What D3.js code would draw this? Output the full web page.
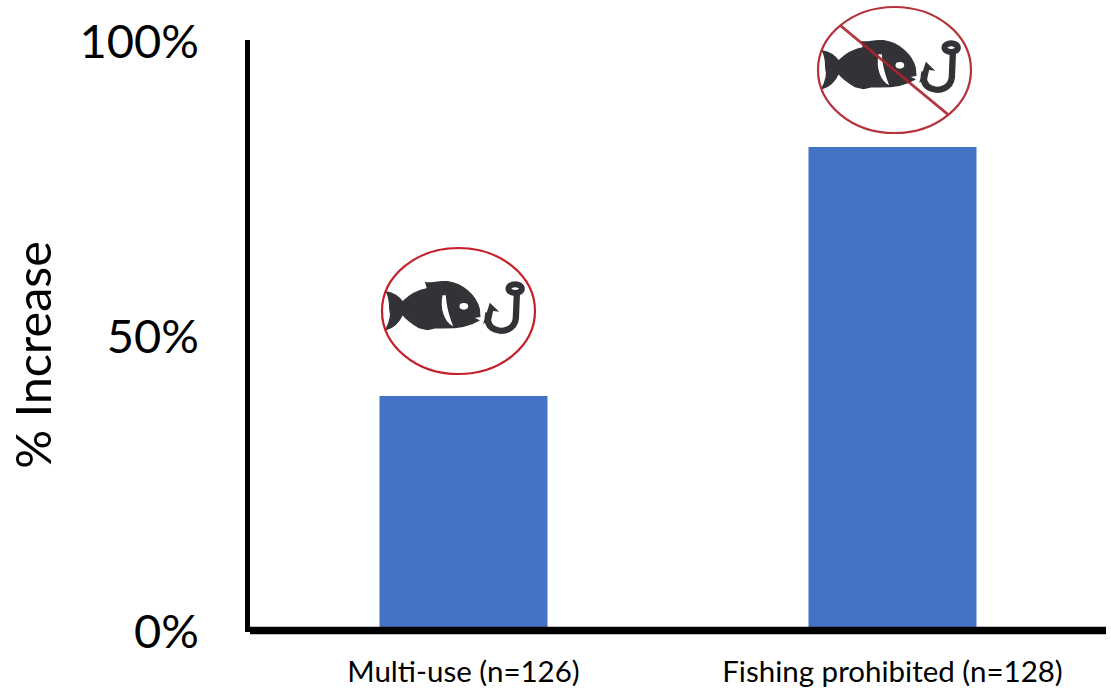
<!DOCTYPE html>
<html>
<head>
<meta charset="utf-8">
<script src="https://cdn.jsdelivr.net/npm/d3@7"></script>
<style>
  html, body { margin: 0; padding: 0; background: #fff; }
  svg { display: block; }
  text { font-family: Lato, "Open Sans", sans-serif; fill: #000; }
</style>
</head>
<body>
<div id="chart"></div>
<script>
const categories = ['Multi-use (n=126)', 'Fishing prohibited (n=128)'];
const values = [40, 82.2];
const tickValues = [0, 50, 100];
const prohibited = [false, true];

const width = 1111;
const height = 689;

const svg = d3.select('#chart').append('svg')
  .attr('width', width)
  .attr('height', height);

const x = d3.scaleBand()
  .domain(categories)
  .range([249, 1107])
  .paddingInner(0.5)
  .paddingOuter(0.25);

// the bar bottoms sit on top of the thick axis line
const y = d3.scaleLinear().domain([0, 100]).range([632, 42]);

const barWidth = 168;
const barX = d => x(d) + x.bandwidth() / 2 - barWidth / 2;

svg.selectAll('rect.bar')
  .data(categories)
  .enter()
  .append('rect')
  .attr('class', 'bar')
  .attr('x', d => barX(d))
  .attr('y', (d, i) => y(values[i]))
  .attr('width', barWidth)
  .attr('height', (d, i) => y(0) - y(values[i]))
  .attr('fill', '#4472c4');

// axes
svg.append('line')
  .attr('x1', 247.5).attr('x2', 247.5)
  .attr('y1', 40).attr('y2', 632)
  .attr('stroke', '#000').attr('stroke-width', 5);

svg.append('line')
  .attr('x1', 250).attr('x2', 1106)
  .attr('y1', 630.5).attr('y2', 630.5)
  .attr('stroke', '#000').attr('stroke-width', 7.5);

svg.selectAll('text.ytick')
  .data(tickValues)
  .enter()
  .append('text')
  .attr('class', 'ytick')
  .attr('x', 199)
  .attr('y', d => y(d))
  .attr('dy', '0.35em')
  .attr('text-anchor', 'end')
  .style('font-size', '47px')
  .text(d => `${d}%`);

svg.selectAll('text.xlabel')
  .data(categories)
  .enter()
  .append('text')
  .attr('class', 'xlabel')
  .attr('x', d => x(d) + x.bandwidth() / 2)
  .attr('y', 682)
  .attr('text-anchor', 'middle')
  .style('font-size', '29.5px')
  .text(d => d);

svg.append('text')
  .attr('transform', 'translate(51,355) rotate(-90)')
  .attr('text-anchor', 'middle')
  .style('font-size', '48.5px')
  .text('% Increase');

// fish + hook icon, drawn in a 3x local space centred on the ring
function drawIcon(g, slashed) {
  const inner = g.append('g').attr('transform', 'scale(0.3333) translate(-268,-212)');
  inner.append('path')
    .attr('fill', '#333337')
    .attr('stroke', '#333337')
    .attr('stroke-width', 4)
    .attr('d', 'M52,155 C70,158 85,165 100,185 C120,165 145,150 175,145 L170,127 C190,130 205,122 235,124 C280,130 320,165 330,205 L332,228 L310,232 L328,240 C300,258 260,265 200,262 L175,268 L150,262 C130,250 110,235 100,222 C90,245 75,262 50,268 C62,245 68,225 62,208 C62,190 60,170 52,155 Z');
  inner.append('path')
    .attr('fill', '#fff')
    .attr('d', 'M220,165 C212,205 225,245 252,258 C240,225 232,200 230,165 Z');
  inner.append('ellipse')
    .attr('cx', 284).attr('cy', 198).attr('rx', 13).attr('ry', 10)
    .attr('fill', '#fff');
  inner.append('ellipse')
    .attr('cx', 438).attr('cy', 145).attr('rx', 20).attr('ry', 13)
    .attr('fill', 'none').attr('stroke', '#333337').attr('stroke-width', 18);
  inner.append('path')
    .attr('fill', 'none').attr('stroke', '#333337').attr('stroke-width', 19)
    .attr('d', 'M443,162 L440,235 C436,265 405,278 380,268 C360,262 352,245 358,218');
  inner.append('path')
    .attr('fill', '#333337')
    .attr('d', 'M362,187 L390,214 L372,212 L366,238 L342,250 Z');
  if (slashed) {
    inner.append('line')
      .attr('x1', 105).attr('y1', 78).attr('x2', 428).attr('y2', 345)
      .attr('stroke', '#a8232c').attr('stroke-width', 8).attr('stroke-opacity', 0.9);
  }
  g.append('ellipse')
    .attr('rx', 76.5).attr('ry', 63)
    .attr('fill', 'none')
    .attr('stroke', slashed ? '#b5323a' : '#c5202a')
    .attr('stroke-width', 2.2);
}

const iconOffsets = [-5, 2];
const iconGap = [85, 77];

categories.forEach((c, i) => {
  const g = svg.append('g')
    .attr('transform', `translate(${x(c) + x.bandwidth() / 2 + iconOffsets[i]},${y(values[i]) - iconGap[i]})`);
  drawIcon(g, prohibited[i]);
});
</script>
</body>
</html>
